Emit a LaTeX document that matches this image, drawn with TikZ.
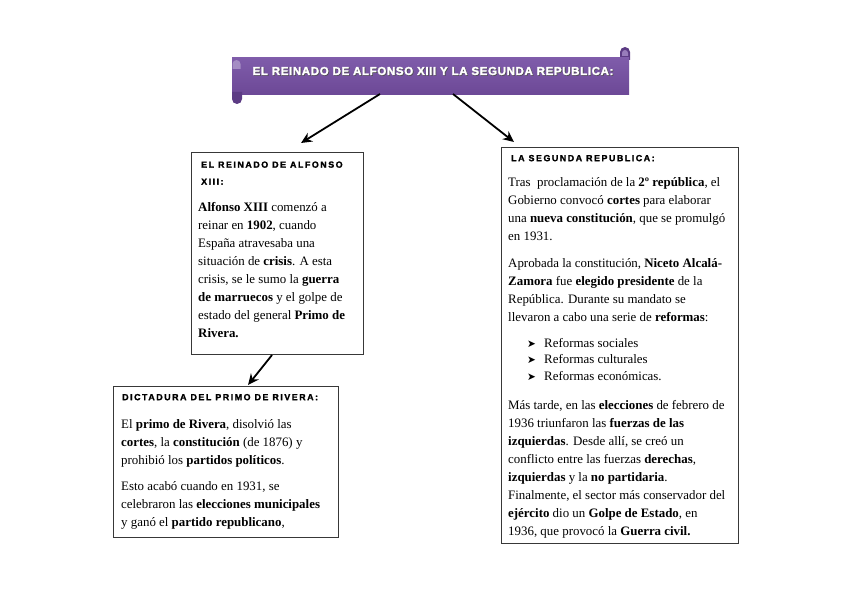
\documentclass[tikz,border=0pt]{standalone}
\usepackage{fontspec}
\setmainfont{Liberation Serif}
\newfontfamily\headfont{Liberation Sans}[LetterSpace=17,FakeBold=1.6]
\newfontfamily\titlefont{Liberation Sans}[LetterSpace=5,FakeBold=2]
\newfontfamily\symfont{DejaVu Sans}
\usetikzlibrary{arrows.meta}
\definecolor{bantop}{HTML}{7F5CAA}
\definecolor{banbot}{HTML}{6C4896}
\definecolor{bandark}{HTML}{5C3B84}
\newcommand\firstl{\rule{0pt}{11pt}}
\newcommand\firsth{\rule{0pt}{7.5pt}}
\newcommand\bul{\makebox[17pt][l]{\symfont\fontsize{10.5}{12}\selectfont ➤}}
\tikzset{
  boxnode/.style={draw=black!78, line width=1pt, fill=white, inner sep=0, rectangle},
  headtext/.style={font=\headfont\bfseries\fontsize{8.9}{17}\selectfont, anchor=north west, inner sep=0, align=left},
  bodytext/.style={font=\fontsize{12.9}{18}\selectfont, anchor=north west, inner sep=0, align=left},
  listtext/.style={font=\fontsize{12.9}{16.5}\selectfont, anchor=north west, inner sep=0, align=left},
  conn/.style={-{Stealth[length=11pt,width=10pt]}, line width=1.8pt},
}
\begin{document}
\begin{tikzpicture}[x=1pt,y=-1pt]
\useasboundingbox (0,0) rectangle (848,599);
% banner
\fill[bandark] (620,60) -- (620,52) arc[start angle=180,end angle=360,radius=5] -- (630,60) -- cycle;
\fill[bantop!80!white] (622,53) arc[start angle=180,end angle=360,radius=3] -- (628,56) -- (622,56) -- cycle;
\shade[top color=bantop, bottom color=banbot] (232,58) rectangle (629,95);
\fill[bandark] (232,92) -- (232,99) arc[start angle=180,end angle=0,radius=5] -- (242,92) -- cycle;
\fill[bantop!70!white] (232.5,64) arc[start angle=180,end angle=360,radius=4] -- (240.5,69) -- (232.5,69) -- cycle;
\node[font=\titlefont\bfseries\fontsize{11.6}{13}\selectfont, text=black!70, inner sep=0, anchor=base] (titleshadow) at (433.7,75.7) {EL REINADO DE ALFONSO XIII Y LA SEGUNDA REPUBLICA:};
\node[font=\titlefont\bfseries\fontsize{11.6}{13}\selectfont, text=white, inner sep=0, anchor=base] (title) at (433,75) {EL REINADO DE ALFONSO XIII Y LA SEGUNDA REPUBLICA:};
% boxes
\node[boxnode, minimum width=172pt, minimum height=202pt] (reinado) at (277,253) {};
\node[boxnode, minimum width=225pt, minimum height=151pt] (dictadura) at (225.5,461.5) {};
\node[boxnode, minimum width=237pt, minimum height=396pt] (republica) at (619.5,345) {};
% box 1
\node[headtext] (h1) at (201,160) {\firsth EL REINADO DE ALFONSO\\XIII:};
\node[bodytext] (p1) at (198,200) {\firstl\textbf{Alfonso XIII} comenzó a\\
reinar en \textbf{1902}, cuando\\
España atravesaba una\\
situación de \textbf{crisis}. A esta\\
crisis, se le sumo la \textbf{guerra}\\
\textbf{de marruecos} y el golpe de\\
estado del general \textbf{Primo de}\\
\textbf{Rivera.}};
% box 2
\node[headtext] (h2) at (122,392.5) {\firsth DICTADURA DEL PRIMO DE RIVERA:};
\node[bodytext] (p2a) at (121,417) {\firstl El \textbf{primo de Rivera}, disolvió las\\
\textbf{cortes}, la \textbf{constitución} (de 1876) y\\
prohibió los \textbf{partidos políticos}.};
\node[bodytext] (p2b) at (121,479) {\firstl Esto acabó cuando en 1931, se\\
celebraron las \textbf{elecciones municipales}\\
y ganó el \textbf{partido republicano},};
% box 3
\node[headtext] (h3) at (511,153.5) {\firsth LA SEGUNDA REPUBLICA:};
\node[bodytext] (p3a) at (508,175) {\firstl Tras\ \ proclamación de la \textbf{2º república}, el\\
Gobierno convocó \textbf{cortes} para elaborar\\
una \textbf{nueva constitución}, que se promulgó\\
en 1931.};
\node[bodytext] (p3b) at (508,256) {\firstl Aprobada la constitución, \textbf{Niceto Alcalá-}\\
\textbf{Zamora} fue \textbf{elegido presidente} de la\\
República. Durante su mandato se\\
llevaron a cabo una serie de \textbf{reformas}:};
\node[listtext] (list) at (527,336) {\firstl\bul Reformas sociales\\
\bul Reformas culturales\\
\bul Reformas económicas.};
\node[bodytext] (p3c) at (508,398) {\firstl Más tarde, en las \textbf{elecciones} de febrero de\\
1936 triunfaron las \textbf{fuerzas de las}\\
\textbf{izquierdas}. Desde allí, se creó un\\
conflicto entre las fuerzas \textbf{derechas},\\
\textbf{izquierdas} y la \textbf{no partidaria}.\\
Finalmente, el sector más conservador del\\
\textbf{ejército} dio un \textbf{Golpe de Estado}, en\\
1936, que provocó la \textbf{Guerra civil.}};
% connectors
\coordinate (s1) at (380,94);
\coordinate (e1) at (301,143);
\coordinate (s2) at (453,94);
\coordinate (e2) at (514,142);
\coordinate (s3) at (272,355);
\coordinate (e3) at (248,385);
\draw[conn] (s1) -- (e1);
\draw[conn] (s2) -- (e2);
\draw[conn] (s3) -- (e3);
\end{tikzpicture}
\end{document}
